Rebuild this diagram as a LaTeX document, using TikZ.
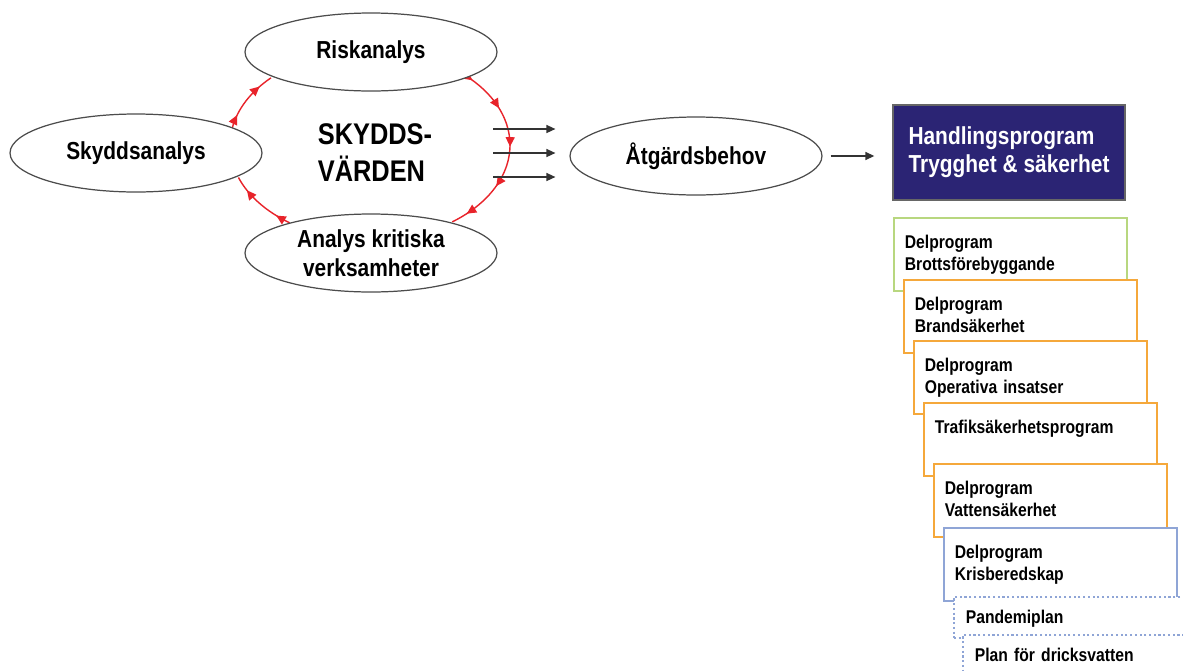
\documentclass[tikz,border=0pt]{standalone}
\usepackage{fontspec}
\setmainfont[FakeStretch=0.85]{Liberation Sans}
\usetikzlibrary{shapes.geometric,arrows.meta,decorations.markings}

\begin{document}
\begin{tikzpicture}[x=0.02cm, y=-0.02cm,
    ell/.style={ellipse, draw=black!70, line width=0.7pt, fill=white, minimum width=5.04cm, minimum height=1.56cm, inner sep=0pt, align=center, font=\fontsize{14}{16.5}\selectfont\bfseries},
    flow/.style={draw=black!80, line width=0.8pt, -{Triangle[length=1.8mm,width=1.6mm]}},
    ring/.style={color=my-red, line width=0.8pt},
    redtip/.style={postaction={decorate, decoration={markings, mark=at position #1 with {\arrow{Triangle[length=1.9mm,width=1.8mm]}}}}},
    dprog/.style={draw=#1, fill=white, line width=1pt, anchor=north west, text width=4.22cm, inner xsep=0.22cm, inner ysep=0pt, text height=0.62cm, text depth=0.84cm, align=left, font=\fontsize{10.5}{12.5}\selectfont\bfseries},
    plan/.style={draw=my-blue, dash pattern=on 1.2pt off 1.5pt, fill=white, line width=1pt, anchor=north west, text width=5.5cm, inner xsep=0.24cm, inner ysep=0pt, text height=0.54cm, text depth=0.28cm, align=left, font=\fontsize{10.5}{12.5}\selectfont\bfseries}]
    \definecolor{my-red}{HTML}{E8232A}
    \definecolor{my-navy}{HTML}{2B2474}
    \definecolor{my-green}{HTML}{B8D77F}
    \definecolor{my-orange}{HTML}{F5A83B}
    \definecolor{my-blue}{HTML}{8FA5D6}
    \path[use as bounding box, fill=white] (0,0) rectangle (1183,670);

    % the loop round the protection values
    \coordinate (cyc) at (370,145);
    \draw[ring, redtip=0.03, redtip=0.24, redtip=0.46, redtip=0.69, redtip=0.91]
      ([shift={(-45.6:140 and 95)}]cyc) arc[start angle=-45.6, end angle=54, x radius=140, y radius=95];
    \draw[ring, redtip=0.22, redtip=0.78]
      ([shift={(125:140 and 95)}]cyc) arc[start angle=125, end angle=160, x radius=140, y radius=95];
    \draw[ring, redtip=0.22, redtip=0.78]
      ([shift={(190:140 and 95)}]cyc) arc[start angle=190, end angle=225, x radius=140, y radius=95];

    \node[ell] (risk) at (371,52) {Riskanalys};
    \node[ell] (skydd) at (136,153) {Skyddsanalys};
    \node[ell] (krit) at (371,253) {Analys kritiska\\verksamheter};
    \node[ell] (atg) at (696,156) {Åtgärdsbehov};
    \node[font=\fontsize{17}{21}\selectfont\bfseries, align=left, inner sep=0pt] (core) at (375,153) {SKYDDS-\\VÄRDEN};

    \foreach \dy in {-27,-3,21}
      \draw[flow] ([shift={(-76,\dy)}]atg.west) -- ++(62,0);

    \node[draw=black!60, line width=0.8pt, fill=my-navy, text=white, minimum width=4.64cm, minimum height=1.9cm, align=left, font=\fontsize{14}{16}\selectfont\bfseries] (hp) at (1009,152.5) {Handlingsprogram\\Trygghet \& säkerhet};
    \draw[flow] ([xshift=0.16cm]atg.east) -- ([xshift=-0.36cm]atg.east -| hp.west);

    % delprogram
    \node[dprog=my-green] (b1) at (893,217) {Delprogram\\Brottsförebyggande};
    \node[dprog=my-orange] (b2) at (903,279) {Delprogram\\Brandsäkerhet};
    \node[dprog=my-orange] (b3) at (913,340) {Delprogram\\Operativa insatser};
    \node[dprog=my-orange] (b4) at (923,402) {Trafiksäkerhetsprogram};
    \node[dprog=my-orange] (b5) at (933,463) {Delprogram\\Vattensäkerhet};
    \node[dprog=my-blue] (b6) at (943,527) {Delprogram\\Krisberedskap};
    \node[plan] (p1) at (953,596) {Pandemiplan};
    \node[plan] (p2) at (962,634) {Plan för dricksvatten};
\end{tikzpicture}
\end{document}
